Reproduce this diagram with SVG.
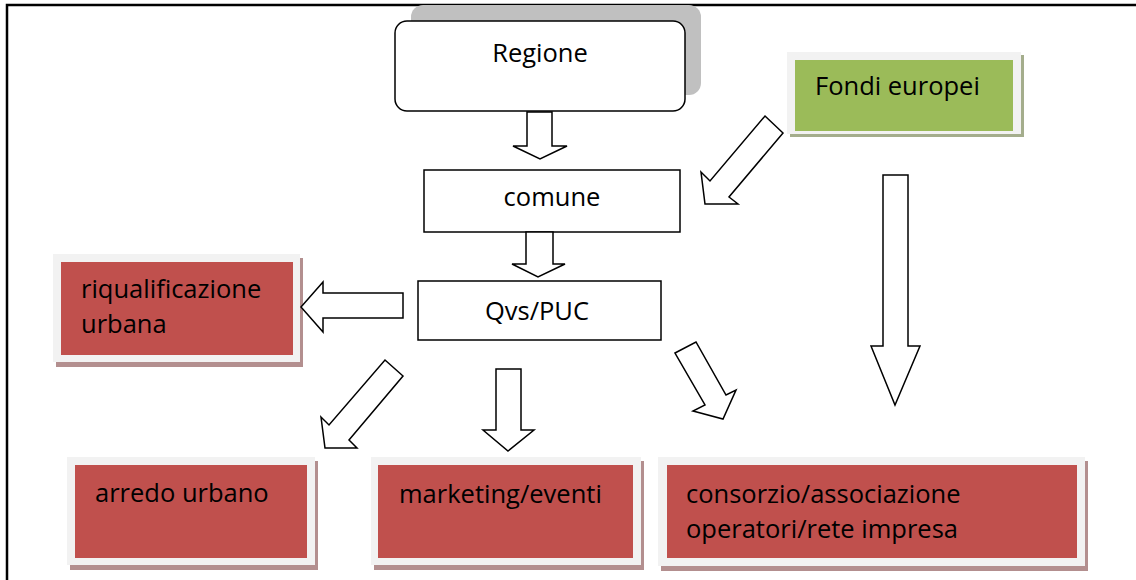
<svg xmlns="http://www.w3.org/2000/svg" width="1136" height="580" viewBox="0 0 1136 580">
  <style>
    .lbl { font-family: "Open Sans", "Liberation Sans", sans-serif; font-size: 25.5px; fill: #000; }
    .box { fill: #fff; stroke: #000; stroke-width: 1.5; }
    .frame { fill: #f2f2f2; }
    .red { fill: #c0504d; }
    .redshadow { fill: #b38f8f; }
    .green { fill: #9bbb59; }
    .greenshadow { fill: #a4ad8c; }
    .arrow { fill: #fff; stroke: #000; stroke-width: 1.5; stroke-linejoin: miter; }
  </style>

  <rect width="1136" height="580" fill="#fff"/>

  <!-- page border (top and left edges) -->
  <path d="M7 580 V5 H1136" fill="none" stroke="#000" stroke-width="2.5"/>

  <g id="regione">
    <rect x="411" y="5" width="290" height="90" rx="12" fill="#c0c0c0"/>
    <rect class="box" x="395" y="21" width="290" height="90" rx="12"/>
    <text class="lbl" x="540" y="62" text-anchor="middle">Regione</text>
  </g>

  <g id="fondi-europei">
    <rect class="greenshadow" x="790" y="55" width="234" height="82"/>
    <rect class="frame" x="787" y="52" width="234" height="82"/>
    <rect class="green" x="795" y="60" width="218" height="71"/>
    <text class="lbl" x="815" y="95">Fondi europei</text>
  </g>

  <g id="comune">
    <rect class="box" x="424" y="170" width="256" height="62"/>
    <text class="lbl" x="552" y="206" text-anchor="middle">comune</text>
  </g>

  <g id="qvs-puc">
    <rect class="box" x="418" y="281" width="243" height="59"/>
    <text class="lbl" x="537" y="320" text-anchor="middle">Qvs/PUC</text>
  </g>

  <g id="riqualificazione">
    <rect class="redshadow" x="56" y="258" width="247" height="109"/>
    <rect class="frame" x="53" y="254" width="247" height="108"/>
    <rect class="red" x="61" y="262" width="232" height="93"/>
    <text class="lbl" x="81" y="298">riqualificazione</text>
    <text class="lbl" x="81" y="333">urbana</text>
  </g>

  <g id="arredo">
    <rect class="redshadow" x="70" y="461" width="248" height="109"/>
    <rect class="frame" x="67" y="457" width="248" height="108"/>
    <rect class="red" x="75" y="465" width="232" height="93"/>
    <text class="lbl" x="95" y="502">arredo urbano</text>
  </g>

  <g id="marketing">
    <rect class="redshadow" x="374" y="461" width="270" height="109"/>
    <rect class="frame" x="371" y="457" width="270" height="108"/>
    <rect class="red" x="378" y="465" width="255" height="93"/>
    <text class="lbl" x="399" y="503">marketing/eventi</text>
  </g>

  <g id="consorzio">
    <rect class="redshadow" x="661" y="461" width="427" height="110"/>
    <rect class="frame" x="658" y="457" width="427" height="109"/>
    <rect class="red" x="667" y="465" width="410" height="93"/>
    <text class="lbl" x="686" y="503">consorzio/associazione</text>
    <text class="lbl" x="686" y="538">operatori/rete impresa</text>
  </g>

  <g id="connectors">
    <!-- Regione to comune -->
    <polygon class="arrow" points="527,112 552,112 552,146 567,146 540,159 513,146 527,146"/>
    <!-- comune to Qvs/PUC -->
    <polygon class="arrow" points="526,232 553,232 553,264 565,264 538,277 512,264 526,264"/>
    <!-- Qvs/PUC to riqualificazione -->
    <polygon class="arrow" points="403,293 403,318 323,318 323,332 301,307 323,282 323,293"/>
    <!-- Qvs/PUC to arredo -->
    <polygon class="arrow" points="385,360 403,376 349,440 357,448 325,448 321,417 329,425"/>
    <!-- Qvs/PUC to marketing -->
    <polygon class="arrow" points="496,369 521,369 521,430 534,430 508,451 483,430 496,430"/>
    <!-- Qvs/PUC to consorzio -->
    <polygon class="arrow" points="675,353 696,342 726,395 736,390 723,419 693,411 705,405"/>
    <!-- Fondi europei to comune -->
    <polygon class="arrow" points="765,116 783,133 729,197 738,204 705,204 701,172 710,181"/>
    <!-- Fondi europei down -->
    <polygon class="arrow" points="883,175 908,175 908,346 920,346 895,405 871,346 883,346"/>
  </g>
</svg>
